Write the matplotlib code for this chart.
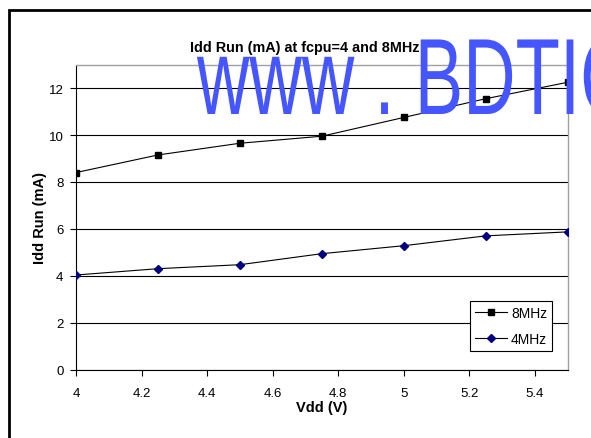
import matplotlib
matplotlib.use("Agg")
import matplotlib.pyplot as plt
from matplotlib.patches import Rectangle
from matplotlib.patheffects import AbstractPathEffect
from matplotlib.transforms import Affine2D

vdd = [4.0, 4.25, 4.5, 4.75, 5.0, 5.25, 5.5]
idd_8mhz = [8.4, 9.15, 9.65, 9.95, 10.75, 11.55, 12.25]
idd_4mhz = [4.03, 4.3, 4.47, 4.94, 5.28, 5.7, 5.87]
xticks = [4, 4.2, 4.4, 4.6, 4.8, 5, 5.2, 5.4]
xticklabels = ["4", "4.2", "4.4", "4.6", "4.8", "5", "5.2", "5.4"]
yticks = [0, 2, 4, 6, 8, 10, 12]


class Squeeze(AbstractPathEffect):
    """Horizontally compress text glyphs about the text anchor."""
    def __init__(self, sx):
        super().__init__()
        self.sx = sx

    def draw_path(self, renderer, gc, tpath, affine, rgbFace=None):
        renderer.draw_path(gc, tpath, Affine2D().scale(self.sx, 1.0) + affine, rgbFace)


plt.rcParams['font.family'] = ['Liberation Sans', 'DejaVu Sans']

W, H = 591, 439
fig = plt.figure(figsize=(W / 100, H / 100), dpi=100)
fig.patch.set_facecolor('white')

# outer chart frame
fig.patches.append(Rectangle((9 / W, -0.1), 1.2, 1 - 11 / H + 0.1, transform=fig.transFigure,
                             fill=False, edgecolor='black', linewidth=2.0, zorder=0))

L, R, T, B = 76, 567.7, 65.7, 370.5
ax = fig.add_axes([L / W, 1 - B / H, (R - L) / W, (B - T) / H])
ax.plot(vdd, idd_8mhz, color='black', linewidth=0.8, marker='s', markersize=5,
        markerfacecolor='black', markeredgecolor='black', label='8MHz', zorder=3)
ax.plot(vdd, idd_4mhz, color='black', linewidth=0.8, marker='D', markersize=3.8,
        markerfacecolor='#000080', markeredgecolor='#000080', label='4MHz', zorder=3)

ax.set_xlim(4, 5.5)
ax.set_ylim(0, 13)
ax.set_xticks(xticks)
ax.set_xticklabels(xticklabels)
ax.set_yticks(yticks)
ax.yaxis.grid(True, color='black', linewidth=0.8)
ax.set_axisbelow(True)
ax.tick_params(axis='both', labelsize=9.5, length=4, width=0.8, direction='out')
ax.tick_params(axis='x', pad=8.5)
ax.tick_params(axis='y', pad=5)
for s in ['top', 'right']:
    ax.spines[s].set_color('#a0a0a0')
    ax.spines[s].set_linewidth(1.0)
for s in ['left', 'bottom']:
    ax.spines[s].set_color('black')
    ax.spines[s].set_linewidth(0.8)

ax.set_xlabel('Vdd (V)', fontsize=10.5, fontweight='bold', labelpad=1)
ax.set_ylabel('Idd Run (mA)', fontsize=10.5, fontweight='bold', labelpad=1.5)

leg = ax.legend(loc='lower right', bbox_to_anchor=((552 - L) / (R - L), (B - 352) / (B - T)),
                fontsize=10, frameon=True, fancybox=False, edgecolor='black', framealpha=1,
                borderpad=0.35, handlelength=2.3, handletextpad=0.3, labelspacing=0.9,
                borderaxespad=0)
leg.get_frame().set_linewidth(0.8)

fig.text(305 / W, 1 - 52 / H, 'Idd Run (mA) at fcpu=4 and 8MHz', ha='center', va='baseline',
         fontsize=10.4, fontweight='bold')

fig.text(197 / W, 1 - 115 / H, 'www . BDTIC.com', ha='left', va='baseline', fontsize=78,
         color='#4656ff', zorder=10, path_effects=[Squeeze(0.67)])

fig.savefig('out.png', dpi=100)
